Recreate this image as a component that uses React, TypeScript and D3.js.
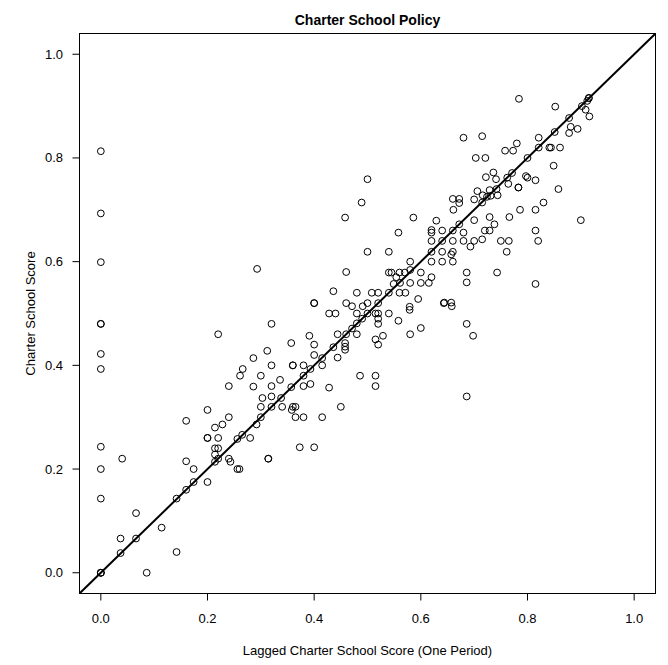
import * as d3 from 'd3';

const chartTitle = 'Charter School Policy';
const xLabel = 'Lagged Charter School Score (One Period)';
const yLabel = 'Charter School Score';
const tickValues = [0, 0.2, 0.4, 0.6, 0.8, 1.0];

// lagged score (x) and current score (y)
const laggedScore = [
  0, 0, 0, 0, 0, 0, 0, 0, 0, 0, 0, 0, 0,
  0.037, 0.037, 0.04, 0.066, 0.066, 0.086, 0.114, 0.142, 0.142, 0.16, 0.16, 0.16,
  0.174, 0.174, 0.2, 0.2, 0.2, 0.2, 0.214, 0.214, 0.214, 0.214, 0.22, 0.22, 0.22, 0.22,
  0.228, 0.24, 0.243, 0.24, 0.24, 0.256, 0.26, 0.256, 0.265, 0.261, 0.266, 0.28, 0.286,
  0.286, 0.292, 0.293, 0.3, 0.3, 0.3, 0.303, 0.312, 0.314, 0.314, 0.32, 0.32, 0.32, 0.32,
  0.32, 0.336, 0.338, 0.34, 0.357, 0.357, 0.36, 0.365, 0.358, 0.36, 0.36, 0.365, 0.373,
  0.38, 0.38, 0.38, 0.38, 0.391, 0.393, 0.393, 0.4, 0.4, 0.4, 0.4, 0.4, 0.415, 0.415,
  0.415, 0.428, 0.428, 0.436, 0.436, 0.44, 0.444, 0.444, 0.45, 0.458, 0.458, 0.458,
  0.458, 0.46, 0.46, 0.46, 0.471, 0.471, 0.48, 0.48, 0.48, 0.48, 0.486, 0.489, 0.49,
  0.491, 0.5, 0.5, 0.5, 0.5, 0.508, 0.515, 0.515, 0.515, 0.515, 0.52, 0.52, 0.52, 0.52,
  0.52, 0.52, 0.529, 0.54, 0.54, 0.54, 0.545, 0.54, 0.549, 0.554, 0.558, 0.558, 0.56,
  0.56, 0.561, 0.57, 0.571, 0.579, 0.579, 0.58, 0.58, 0.58, 0.58, 0.586, 0.595, 0.6,
  0.6, 0.6, 0.615, 0.62, 0.62, 0.62, 0.62, 0.62, 0.62, 0.629, 0.64, 0.64, 0.64, 0.64,
  0.643, 0.644, 0.657, 0.658, 0.657, 0.66, 0.66, 0.66, 0.66, 0.66, 0.661, 0.672, 0.672,
  0.672, 0.68, 0.68, 0.68, 0.686, 0.686, 0.686, 0.686, 0.693, 0.698, 0.7, 0.7, 0.7,
  0.703, 0.706, 0.715, 0.715, 0.715, 0.716, 0.72, 0.721, 0.722, 0.724, 0.729, 0.729,
  0.729, 0.731, 0.736, 0.738, 0.741, 0.742, 0.743, 0.744, 0.75, 0.758, 0.761, 0.762,
  0.764, 0.765, 0.766, 0.771, 0.773, 0.78, 0.783, 0.783, 0.784, 0.786, 0.797, 0.8, 0.8,
  0.815, 0.815, 0.815, 0.815, 0.82, 0.821, 0.821, 0.83, 0.841, 0.844, 0.849, 0.851,
  0.852, 0.858, 0.861, 0.878, 0.878, 0.881, 0.894, 0.9, 0.902, 0.909, 0.915, 0.916,
  0.912, 0.915,
];

const charterScore = [
  0.813, 0.693, 0.599, 0.48, 0.48, 0.422, 0.393, 0.243, 0.2, 0.143, 0, 0, 0,
  0.038, 0.066, 0.22, 0.066, 0.115, 0, 0.087, 0.04, 0.143, 0.16, 0.215, 0.293,
  0.175, 0.2, 0.175, 0.26, 0.26, 0.314, 0.214, 0.228, 0.24, 0.28, 0.22, 0.24, 0.26, 0.46,
  0.286, 0.22, 0.214, 0.3, 0.36, 0.2, 0.2, 0.258, 0.266, 0.38, 0.393, 0.26, 0.359,
  0.414, 0.286, 0.586, 0.3, 0.32, 0.38, 0.337, 0.428, 0.22, 0.22, 0.32, 0.34, 0.36, 0.4,
  0.48, 0.372, 0.337, 0.32, 0.358, 0.443, 0.32, 0.32, 0.314, 0.4, 0.4, 0.3, 0.242,
  0.3, 0.36, 0.38, 0.4, 0.457, 0.364, 0.393, 0.242, 0.42, 0.44, 0.52, 0.52, 0.3, 0.4,
  0.414, 0.357, 0.5, 0.435, 0.543, 0.5, 0.415, 0.46, 0.32, 0.43, 0.436, 0.443,
  0.685, 0.46, 0.52, 0.58, 0.471, 0.514, 0.46, 0.481, 0.5, 0.54, 0.38, 0.714, 0.49,
  0.514, 0.5, 0.52, 0.619, 0.759, 0.54, 0.36, 0.38, 0.45, 0.5, 0.44, 0.48, 0.49, 0.5,
  0.52, 0.54, 0.457, 0.5, 0.54, 0.579, 0.579, 0.619, 0.557, 0.57, 0.486, 0.656, 0.54,
  0.579, 0.559, 0.579, 0.54, 0.507, 0.513, 0.46, 0.559, 0.584, 0.6, 0.685, 0.528, 0.472,
  0.559, 0.579, 0.559, 0.57, 0.6, 0.619, 0.64, 0.656, 0.661, 0.679, 0.6, 0.619, 0.64, 0.66,
  0.52, 0.521, 0.521, 0.514, 0.614, 0.6, 0.619, 0.64, 0.66, 0.721, 0.7, 0.672, 0.713,
  0.721, 0.64, 0.656, 0.839, 0.34, 0.48, 0.56, 0.579, 0.629, 0.457, 0.64, 0.68, 0.72,
  0.8, 0.736, 0.643, 0.714, 0.842, 0.728, 0.66, 0.8, 0.763, 0.725, 0.66, 0.686,
  0.738, 0.727, 0.772, 0.672, 0.759, 0.74, 0.579, 0.728, 0.64, 0.814, 0.619, 0.762,
  0.75, 0.64, 0.686, 0.771, 0.814, 0.828, 0.743, 0.743, 0.914, 0.7, 0.765, 0.762, 0.8,
  0.557, 0.66, 0.7, 0.757, 0.64, 0.82, 0.839, 0.714, 0.82, 0.82, 0.785, 0.85,
  0.899, 0.74, 0.82, 0.848, 0.877, 0.86, 0.856, 0.68, 0.9, 0.893, 0.916, 0.88,
  0.91, 0.915,
];

const W = 668;
const H = 665;
const box = { left: 79.5, right: 655.5, top: 33.5, bottom: 593.5 };
const domain: [number, number] = [-0.04, 1.04];
const font = 'Liberation Sans, Arial, Helvetica, sans-serif';

export default function App() {
  const x = d3.scaleLinear().domain(domain).range([box.left, box.right]);
  const y = d3.scaleLinear().domain(domain).range([box.bottom, box.top]);
  const points = d3.zip(laggedScore, charterScore);
  const diag = d3.line<number>().x(d => x(d)).y(d => y(d));

  return (
    <svg width={W} height={H} style={{ position: 'absolute', left: 0, top: 0, background: '#fff' }}>
      <defs>
        <clipPath id="plot">
          <rect x={box.left} y={box.top} width={box.right - box.left} height={box.bottom - box.top} />
        </clipPath>
      </defs>
      <text x={(box.left + box.right) / 2} y={25} textAnchor="middle" fontFamily={font}
        fontWeight="bold" fontSize={14}>{chartTitle}</text>

      <g fill="none" stroke="#000" strokeWidth={1}>
        {points.map(([px, py], i) => (
          <circle key={i} cx={x(px)} cy={y(py)} r={3.4} />
        ))}
      </g>

      <path d={diag(domain) || ''} stroke="#000" strokeWidth={2} fill="none" clipPath="url(#plot)" />

      <rect x={box.left} y={box.top} width={box.right - box.left} height={box.bottom - box.top}
        fill="none" stroke="#000" strokeWidth={1} />

      {tickValues.map(t => (
        <g key={'x' + t}>
          <line x1={x(t)} x2={x(t)} y1={box.bottom} y2={box.bottom + 7} stroke="#000" />
          <text x={x(t)} y={623} textAnchor="middle" fontFamily={font} fontSize={13}>{d3.format('.1f')(t)}</text>
        </g>
      ))}
      {tickValues.map(t => (
        <g key={'y' + t}>
          <line x1={box.left - 7} x2={box.left} y1={y(t)} y2={y(t)} stroke="#000" />
          <text x={63} y={y(t) + 4.5} textAnchor="end" fontFamily={font} fontSize={13}>{d3.format('.1f')(t)}</text>
        </g>
      ))}

      <text x={(box.left + box.right) / 2} y={655} textAnchor="middle" fontFamily={font} fontSize={13}>{xLabel}</text>
      <text transform={`translate(35,${(box.top + box.bottom) / 2}) rotate(-90)`} textAnchor="middle"
        fontFamily={font} fontSize={13}>{yLabel}</text>
    </svg>
  );
}
